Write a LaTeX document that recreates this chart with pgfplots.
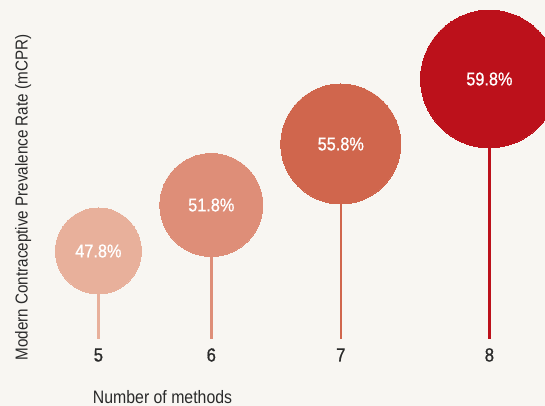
\documentclass[border=0pt]{standalone}
\usepackage{pgfplots}
\pgfplotsset{compat=1.18}
\usepackage{fontspec}
\setmainfont{Liberation Sans}[FakeStretch=0.88]
\newfontfamily\medfont{Liberation Sans}[FakeStretch=0.88, FakeBold=0.8]
\definecolor{bg}{HTML}{F8F6F2}
\definecolor{cA}{HTML}{E8B09B}
\definecolor{cB}{HTML}{DE8E78}
\definecolor{cC}{HTML}{D0664D}
\definecolor{cD}{HTML}{BC111B}
\definecolor{txt}{HTML}{2A2A2A}
\begin{document}
\begin{tikzpicture}
\fill[bg] (0,0) rectangle (545pt,406pt);
\useasboundingbox (0,0) rectangle (545pt,406pt);
\clip (0,0) rectangle (545pt,406pt);
\begin{axis}[
  at={(40pt,67pt)}, anchor=south west,
  scale only axis, width=505pt, height=339pt,
  xmin=40, xmax=545, ymin=0, ymax=339,
  clip=false,
  axis line style={draw=none},
  major tick length=0pt,
  ytick=\empty,
  xtick={98.4,211.3,340.8,489.4},
  xticklabels={5,6,7,8},
  xticklabel style={font=\medfont\fontsize{19}{21}\selectfont, text=txt, anchor=base, yshift=-22.5pt},
  xlabel={Number of methods},
  xlabel style={at={(axis description cs:0.2426,-0.19)}, anchor=base, font=\fontsize{18}{20}\selectfont, text=txt},
  ylabel={Modern Contraceptive Prevalence Rate (mCPR)},
  ylabel style={at={(axis description cs:-0.0244,0.4174)}, anchor=base, font=\fontsize{17.3}{19}\selectfont, text=txt},
  nodes near coords style={font=\medfont\fontsize{18.5}{20}\selectfont, text=white, anchor=center},
]
% stems
\addplot[cA, line width=2.5pt, ycomb, mark=none] coordinates {(98.4,88)};
\addplot[cB, line width=2.5pt, ycomb, mark=none] coordinates {(211.3,134)};
\addplot[cC, line width=2.5pt, ycomb, mark=none] coordinates {(340.8,195)};
\addplot[cD, line width=2.5pt, ycomb, mark=none] coordinates {(489.4,260)};
% bubbles
\addplot[cA, only marks, mark=*, mark size=43pt, mark options={draw=cA, fill=cA, line width=0pt},
  nodes near coords, point meta=explicit symbolic] coordinates {(98.4,88) [47.8\%]};
\addplot[cB, only marks, mark=*, mark size=51.5pt, mark options={draw=cB, fill=cB, line width=0pt},
  nodes near coords, point meta=explicit symbolic] coordinates {(211.3,134) [51.8\%]};
\addplot[cC, only marks, mark=*, mark size=60pt, mark options={draw=cC, fill=cC, line width=0pt},
  nodes near coords, point meta=explicit symbolic] coordinates {(340.8,195) [55.8\%]};
\addplot[cD, only marks, mark=*, mark size=68.8pt, mark options={draw=cD, fill=cD, line width=0pt},
  nodes near coords, point meta=explicit symbolic] coordinates {(489.4,260) [59.8\%]};
\end{axis}
\end{tikzpicture}
\end{document}
